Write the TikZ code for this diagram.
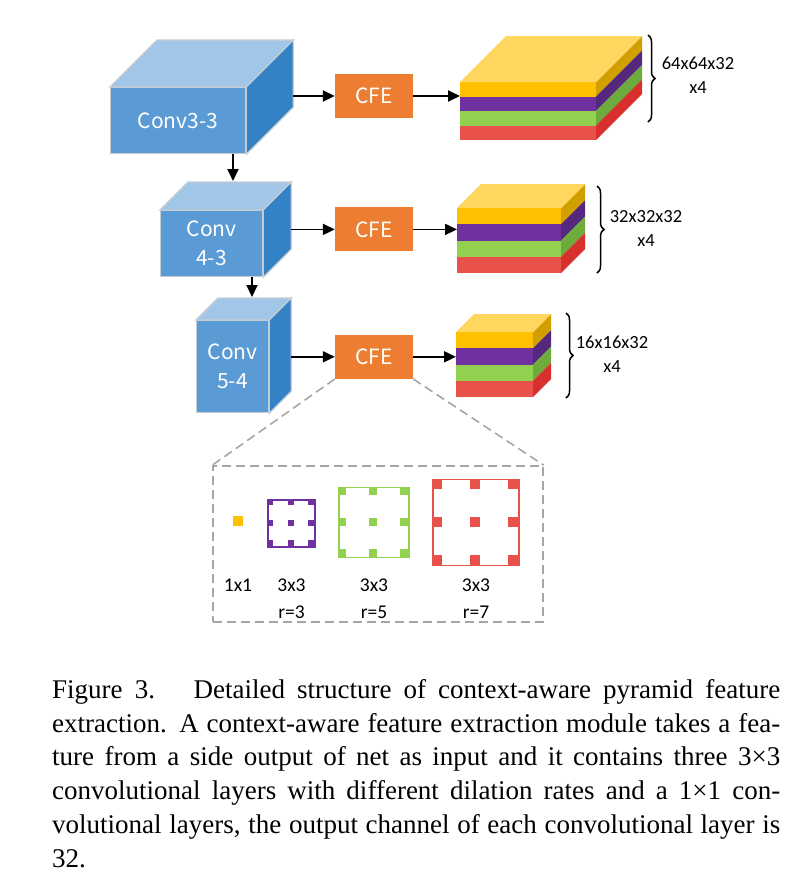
\documentclass[tikz,border=0pt]{standalone}
\usepackage{fontspec}
\setmainfont{Liberation Serif}
\newfontfamily\cjkfont{Noto Sans CJK SC}
\newfontfamily\lblfont{Carlito}
\usetikzlibrary{decorations.pathreplacing,positioning,arrows.meta}

\definecolor{cubefr}{HTML}{5B9BD5}
\definecolor{cubetp}{HTML}{A2C6E8}
\definecolor{cubers}{HTML}{3482C6}
\definecolor{cubeln}{HTML}{C4CCD4}
\definecolor{cfeor}{HTML}{ED7D31}
\definecolor{zoomgray}{HTML}{A6A6A6}
\definecolor{ly}{HTML}{FFC000}
\definecolor{lyt}{HTML}{FFD75E}
\definecolor{lyr}{HTML}{D1A000}
\definecolor{lp}{HTML}{7030A0}
\definecolor{lpr}{HTML}{55287E}
\definecolor{lg}{HTML}{92D050}
\definecolor{lgr}{HTML}{6DAC3C}
\definecolor{lr}{HTML}{E8524A}
\definecolor{lrr}{HTML}{D8302C}

\tikzset{
  cubeface/.style={draw=cubeln, line width=1.2pt},
  cubefront/.style={cubeface, fill=cubefr, inner sep=0pt, text=white,
    font=\cjkfont\fontsize{21}{29}\selectfont, align=center},
  cfe/.style={fill=cfeor, minimum width=78pt, minimum height=44pt, inner sep=0pt,
    text=white, font=\cjkfont\fontsize{21}{25}\selectfont},
  arr/.style={-{Triangle[length=12pt,width=11pt]}, line width=1.8pt},
  dimlabel/.style={font=\lblfont\fontsize{18.5}{24}\selectfont, align=center},
  kernlabel/.style={font=\lblfont\fontsize{19.5}{27}\selectfont, align=center},
  zoomline/.style={draw=zoomgray, line width=1.6pt, dash pattern=on 9pt off 5pt},
  brc/.style={decorate, decoration={brace, amplitude=7pt}, line width=1.5pt},
}

% #1 name, #2 front top-left, #3 width, #4 height, #5 depth, #6 text
\newcommand{\convcube}[6]{%
  \node[cubefront, minimum width=#3pt, minimum height=#4pt, anchor=north west] (#1) at (#2) {#6};
  \draw[cubeface, fill=cubetp] (#1.north west) -- ++(#5,-#5) -- ([shift={(#5,-#5)}]#1.north east) -- (#1.north east) -- cycle;
  \draw[cubeface, fill=cubers] (#1.north east) -- ++(#5,-#5) -- ([shift={(#5,-#5)}]#1.south east) -- (#1.south east) -- cycle;
  \coordinate (#1r) at ([shift={(#5,0)}]#1.east);
}

% #1 name, #2 front top-left, #3 width, #4 layer height, #5 depth
\newcommand{\featstack}[5]{%
  \node[inner sep=0pt, minimum width=#3pt, minimum height=4*#4pt, anchor=north west] (#1) at (#2) {};
  \begin{scope}[shift={(#1.north west)}]
    \foreach \fc/\rc [count=\i from 0] in {ly/lyr, lp/lpr, lg/lgr, lr/lrr} {
      \fill[\fc] (0,{\i*#4}) rectangle (#3,{(\i+1)*#4});
      \fill[\rc] (#3,{\i*#4}) -- ++(#5,-#5) -- ++(0,#4) -- (#3,{(\i+1)*#4}) -- cycle;
    }
    \fill[lyt] (0,0) -- (#5,-#5) -- ({#3+#5},-#5) -- (#3,0) -- cycle;
  \end{scope}
}

% #1 name, #2 centre, #3 size, #4 dot size, #5 colour
\newcommand{\dilkernel}[5]{%
  \node[draw=#5, line width=1.8pt, minimum size=#3pt, inner sep=0pt] (#1) at (#2) {};
  \foreach \i in {0,1,2} \foreach \j in {0,1,2}
    \fill[#5, shift={(#1.north west)}] ({\i*(#3-#4)/2},{\j*(#3-#4)/2}) rectangle ++(#4,#4);
}

\newcommand{\capline}[1]{{\spaceskip=0pt\xspaceskip=0pt\makebox[728pt][s]{#1}}}

\begin{document}
\begin{tikzpicture}[x=1pt,y=-1pt]
\useasboundingbox (0,0) rectangle (804,876);

\convcube{c1}{110,87}{135}{66}{47}{Conv3-3}
\convcube{c2}{160,210}{102}{66}{28}{Conv\\4-3}
\convcube{c3}{196,320}{72}{92}{22}{Conv\\5-4}
\coordinate (c2t) at (233,181);
\coordinate (c3t) at (252,297);

\node[cfe] (cfe1) at (374,96) {CFE};
\node[cfe, below=89pt of cfe1] (cfe2) {CFE};
\node[cfe, below=83pt of cfe2] (cfe3) {CFE};

\featstack{s1}{460,82}{136}{14.5}{46}
\featstack{s2}{457,208}{104}{16.25}{24}
\featstack{s3}{456,332}{77}{16.25}{18}

\draw[arr] (c1.south -| c2t) -- (c2t);
\draw[arr] (c2.south -| c3t) -- (c3t);

\draw[arr] (cfe1 -| c1r) -- (cfe1);
\draw[arr] (cfe2 -| c2r) -- (cfe2);
\draw[arr] (cfe3 -| c3r) -- (cfe3);
\draw[arr] (cfe1) -- (cfe1 -| s1.west);
\draw[arr] (cfe2) -- (cfe2 -| s2.west);
\draw[arr] (cfe3) -- (cfe3 -| s3.west);

\draw[brc] (648,35) -- (648,122);
\draw[brc] (597,186) -- (597,273);
\draw[brc] (566,313) -- (566,398);
\node[dimlabel] (d1) at (698,75) {64x64x32\\x4};
\node[dimlabel] (d2) at (646,228) {32x32x32\\x4};
\node[dimlabel] (d3) at (612,354) {16x16x32\\x4};

\node[zoomline, minimum width=330pt, minimum height=156pt, inner sep=0pt] (cfebox) at (378,544) {};
\draw[zoomline] (cfe3.south west) -- (cfebox.north west);
\draw[zoomline] (cfe3.south east) -- (cfebox.north east);

\node[fill=ly, minimum size=10pt, inner sep=0pt] (k1) at (238,521) {};
\dilkernel{k3}{291.5,523.5}{47}{6}{lp}
\dilkernel{k5}{374,522.5}{70}{8}{lg}
\dilkernel{k7}{476,522.5}{86}{10}{lr}

\node[kernlabel] (l1) at (238,585) {1x1};
\node[kernlabel, anchor=north] (l3) at (l1.north -| k3) {3x3\\r=3};
\node[kernlabel, anchor=north] (l5) at (l1.north -| k5) {3x3\\r=5};
\node[kernlabel, anchor=north] (l7) at (l1.north -| k7) {3x3\\r=7};

\node[anchor=north west, inner sep=0pt, text width=728pt, align=left,
  font=\fontsize{27}{33.8}\selectfont] (caption) at (52,679) {%
\capline{Figure 3.\hspace{0.5em} Detailed structure of context-aware pyramid feature}\\
\capline{extraction. A context-aware feature extraction module takes a fea-}\\
\capline{ture from a side output of net as input and it contains three 3×3}\\
\capline{convolutional layers with different dilation rates and a 1×1 con-}\\
\capline{volutional layers, the output channel of each convolutional layer is}\\
32.};
\end{tikzpicture}
\end{document}
